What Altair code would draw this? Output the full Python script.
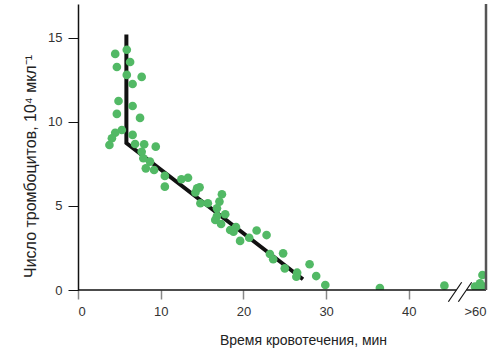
import altair as alt
import pandas as pd

# scatter points (bleeding time, min; platelet count, 10^4 per µl)
pts_x = [4.5, 5.9, 4.7, 6.3, 5.9, 7.7, 6.6, 4.9, 6.6, 4.7,
         7.5, 5.3, 4.5, 4.1, 3.8, 6.6, 6.9, 8.0, 9.4, 7.7,
         7.9, 8.7, 8.2, 9.2, 10.5, 10.5, 12.5, 13.3, 14.4, 14.7,
         14.2, 14.8, 15.7, 17.4, 17.1, 16.8, 16.8, 17.8, 16.6, 17.3,
         18.4, 19.1, 18.8, 19.6, 20.7, 21.6, 22.8, 23.2, 23.6, 24.8,
         25.0, 26.5, 26.4, 28.0, 28.8, 29.9, 36.5, 44.3, 48.0, 48.6,
         48.9, 49.1, 48.5]
pts_y = [14.05, 14.3, 13.27, 13.57, 12.8, 12.68, 12.26, 11.25, 10.95, 10.48,
         10.24, 9.52, 9.36, 9.03, 8.63, 9.23, 8.69, 8.67, 8.53, 8.23,
         7.84, 7.64, 7.24, 7.14, 6.79, 6.15, 6.59, 6.68, 6.05, 6.11,
         5.8, 5.16, 5.16, 5.7, 5.26, 4.86, 4.4, 4.51, 4.17, 3.93,
         3.57, 3.75, 3.47, 2.92, 3.11, 3.54, 3.27, 2.14, 1.83, 2.18,
         1.29, 1.03, 0.79, 1.53, 0.83, 0.3, 0.12, 0.26, 0.2, 0.4,
         0.89, 0.2, 0.04]

# fitted black polyline
line_x = [5.85, 5.85, 27.2]
line_y = [15.2, 8.75, 0.64]

# x tick values; 48 stands for ">60"
x_ticks = [0, 10, 20, 30, 40, 48]
y_ticks = [0, 5, 10, 15]

# axis segments (broken x axis) and break slashes
seg_x1 = [0, 46.96]
seg_x2 = [45.75, 49.33]
brk_x1 = [44.78, 45.99]
brk_y1 = [-0.70, -0.70]
brk_x2 = [46.39, 47.60]
brk_y2 = [0.46, 0.46]

X_MAX = 49.33
Y_MAX = 17.02

pts = pd.DataFrame({"x": pts_x, "y": pts_y})
ln = pd.DataFrame({"x": line_x, "y": line_y, "o": list(range(len(line_x)))})
seg = pd.DataFrame({"x": seg_x1, "x2": seg_x2, "y": [0, 0]})
brk = pd.DataFrame({"x": brk_x1, "y": brk_y1, "x2": brk_x2, "y2": brk_y2})
border = pd.DataFrame({"x": [X_MAX], "y": [0], "y2": [Y_MAX]})

xs = alt.Scale(domain=[0, X_MAX], nice=False, zero=False)
ys = alt.Scale(domain=[0, Y_MAX], nice=False, zero=False)

FONT = "Liberation Sans"

x_axis = alt.Axis(
    values=x_ticks,
    labelExpr="datum.value == 48 ? '>60' : datum.label",
    domain=False, grid=False,
    tickColor="#888", tickSize=9, tickWidth=1.5,
    tickOpacity=alt.ExprRef(expr="datum.value == 48 ? 0 : 1"),
    labelPadding=6, labelFont=FONT, labelFontSize=13, labelColor="#333",
    title="Время кровотечения, мин",
    titleFont=FONT, titleFontSize=14, titleFontWeight="normal", titleColor="#222",
    titleX=225, titleY=50, titleAlign="center", titleBaseline="middle",
)
y_axis = alt.Axis(
    values=y_ticks,
    domain=True, domainColor="#111", domainWidth=1.5, grid=False,
    tickColor="#111", tickSize=10, tickWidth=1,
    labelPadding=6, labelFont=FONT, labelFontSize=13, labelColor="#333",
    title="Число тромбоцитов, 10⁴ мкл⁻¹",
    titleFont=FONT, titleFontSize=16, titleFontWeight="normal", titleColor="#222",
    titleX=-48, titleY=162, titleAlign="center", titleBaseline="middle",
)

X = alt.X("x:Q", scale=xs, axis=x_axis)
Y = alt.Y("y:Q", scale=ys, axis=y_axis)

points = alt.Chart(pts).mark_circle(size=75, color="#52b965", opacity=1, clip=True).encode(
    x=X, y=Y,
)

line = alt.Chart(ln).mark_line(color="#111", strokeWidth=4).encode(
    x=X, y=Y, order="o:O",
)

axis_segs = alt.Chart(seg).mark_rule(color="#111", strokeWidth=1.5).encode(
    x=X, x2="x2:Q", y=Y,
)

breaks = alt.Chart(brk).mark_rule(color="#111", strokeWidth=1.2, clip=False).encode(
    x=X, x2="x2:Q", y=Y, y2="y2:Q",
)

right_border = alt.Chart(border).mark_rule(color="#555", strokeWidth=2.5).encode(
    x=X, y=Y, y2="y2:Q",
)

chart = alt.layer(line, points, axis_segs, breaks, right_border).properties(
    width=408, height=286,
    autosize=alt.AutoSizeParams(type="none"),
    padding={"left": 78, "top": 4, "right": 16, "bottom": 61},
    background="white",
).configure_view(strokeWidth=0)

chart.save("out.html", embed_options={"renderer": "svg", "actions": False})
